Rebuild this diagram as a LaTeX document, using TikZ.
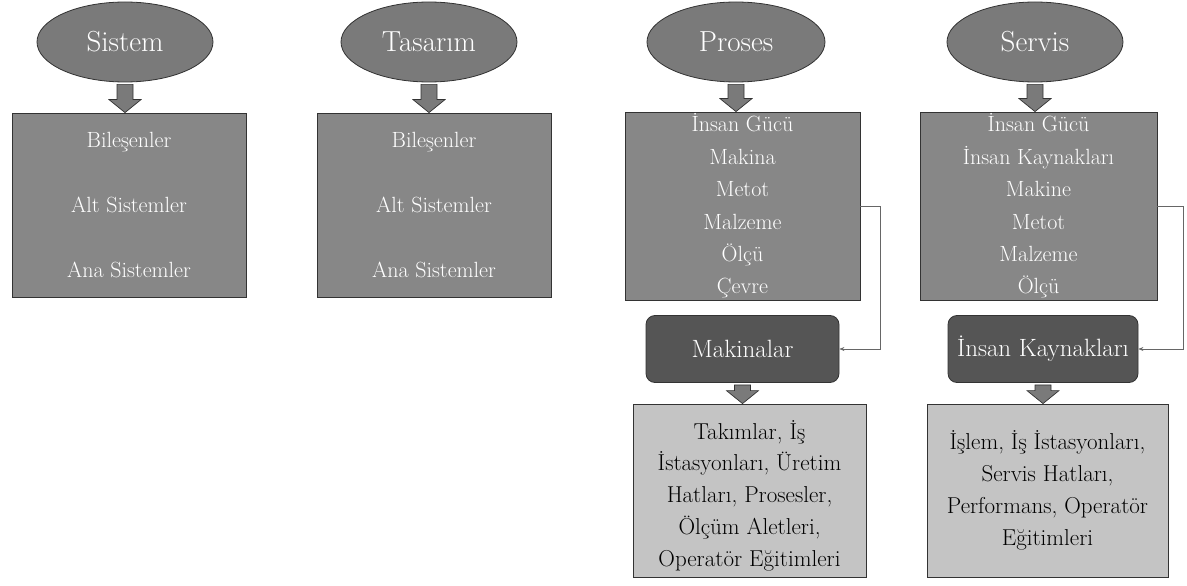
\documentclass[tikz,border=0pt]{standalone}
\usetikzlibrary{arrows.meta,calc,shapes.geometric}
\definecolor{ellgray}{HTML}{7A7A7A}
\definecolor{boxgray}{HTML}{878787}
\definecolor{darkgray2}{HTML}{555555}
\definecolor{lightgray2}{HTML}{C4C4C4}
\definecolor{edgegray}{HTML}{333333}
\begin{document}
\begin{tikzpicture}[x=1pt,y=-1pt,
  ell/.style={ellipse,draw=edgegray,line width=0.8pt,fill=ellgray,text=white,
    minimum width=176pt,minimum height=80pt,inner sep=0pt,font=\fontsize{29}{32}\selectfont},
  topbox/.style={rectangle,draw=edgegray,line width=0.8pt,fill=boxgray,text=white,
    inner sep=0pt,align=center},
  midbox/.style={rectangle,rounded corners=9pt,draw=edgegray,line width=0.8pt,fill=darkgray2,text=white,
    minimum width=190pt,minimum height=67pt,inner sep=0pt,font=\fontsize{25}{28}\selectfont},
  lowbox/.style={rectangle,draw=edgegray,line width=0.8pt,fill=lightgray2,
    minimum height=173pt,inner sep=0pt},
  lowtext/.style={text=black,align=center,inner sep=0pt,yshift=-5pt,font=\fontsize{23}{31.8}\selectfont},
  blk/.style={draw=edgegray,line width=0.7pt,fill=ellgray},
  conn/.style={draw=gray!80!black,line width=0.6pt,-{Stealth[length=5pt,width=4pt]}}
]
\useasboundingbox[fill=white] (0,0) rectangle (1187,586);
\newcommand\blkarrow[2]{%
  \draw[blk] let \p1=(#1.south), \p2=(#2.north) in
    (\x1-8pt,\y1-2pt) -- (\x1+8pt,\y1-2pt) -- (\x1+8pt,\y2+13pt) -- (\x1+16pt,\y2+13pt)
    -- (\x1,\y2) -- (\x1-16pt,\y2+13pt) -- (\x1-8pt,\y2+13pt) -- cycle;}

% ellipses
\node[ell] (sis) at (125,42) {Sistem};
\node[ell] (tas) at (429,42) {Tasarım};
\node[ell,minimum width=178pt] (pro) at (736,42) {Proses};
\node[ell] (ser) at (1035,42) {Servis};

% top boxes
\node[topbox,minimum width=234pt,minimum height=184pt,font=\fontsize{22}{65}\selectfont]
  (sisbox) at (129,205) {Bileşenler\\Alt Sistemler\\Ana Sistemler};
\node[topbox,minimum width=234pt,minimum height=184pt,font=\fontsize{22}{65}\selectfont]
  (tasbox) at (434,205) {Bileşenler\\Alt Sistemler\\Ana Sistemler};
\node[topbox,minimum width=235pt,minimum height=188pt,font=\fontsize{22}{32.4}\selectfont]
  (probox) at (742.5,206) {İnsan Gücü\\Makina\\Metot\\Malzeme\\Ölçü\\Çevre};
\node[topbox,minimum width=237pt,minimum height=188pt,font=\fontsize{22}{32.4}\selectfont]
  (serbox) at (1038.5,206) {İnsan Gücü\\İnsan Kaynakları\\Makine\\Metot\\Malzeme\\Ölçü};

% middle rounded boxes
\node[midbox,minimum width=193pt] (mak) at (742.5,349) {Makinalar};
\node[midbox] (ik) at (1043,349) {İnsan Kaynakları};

% lower boxes
\node[lowbox,minimum width=233pt] (makbox) at (749.5,490.5) {};
\node[lowtext] (maktext) at (makbox.center)
  {Takımlar, İş\\İstasyonları, Üretim\\Hatları, Prosesler,\\Ölçüm Aletleri,\\Operatör Eğitimleri};
\node[lowbox,minimum width=241pt] (ikbox) at (1047.5,490.5) {};
\node[lowtext,yshift=5pt] (iktext) at (ikbox.center)
  {İşlem, İş İstasyonları,\\Servis Hatları,\\Performans, Operatör\\Eğitimleri};

% block arrows
\blkarrow{sis}{sisbox}
\blkarrow{tas}{tasbox}
\blkarrow{pro}{probox}
\blkarrow{ser}{serbox}
\blkarrow{mak}{makbox}
\blkarrow{ik}{ikbox}

% connectors
\draw[conn] (probox.east) -- ++(20,0) |- (mak.east);
\draw[conn] (serbox.east) -- ++(26,0) |- (ik.east);
\end{tikzpicture}
\end{document}
